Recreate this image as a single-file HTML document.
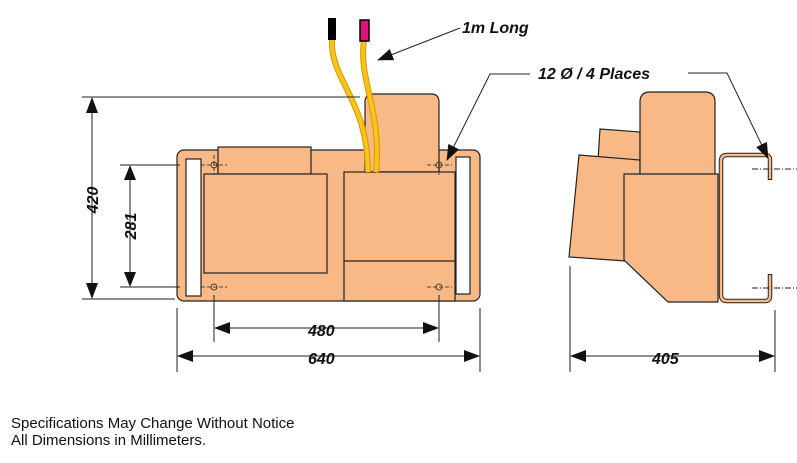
<!DOCTYPE html>
<html><head><style>
body{margin:0;background:#fff;width:797px;height:463px;overflow:hidden}
svg{display:block}
.t{font-family:"Liberation Sans",sans-serif;font-weight:bold;font-style:italic;font-size:16px;fill:#111}
.f{font-family:"Liberation Sans",sans-serif;font-size:15px;fill:#111}
</style></head><body>
<svg width="797" height="463" viewBox="0 0 797 463" xmlns="http://www.w3.org/2000/svg">
<defs>
<marker id="b" markerWidth="16" markerHeight="12" refX="15" refY="6" orient="auto" markerUnits="userSpaceOnUse"><path d="M0,0 L16,6 L0,12z" fill="#111"/></marker></defs>
<g stroke="#222" stroke-width="1.2" fill="#f8b987">
<rect x="177" y="150" width="303" height="151" rx="7"/>
<path d="M365,172 V102 Q365,94 373,94 H431 Q439,94 439,102 V172z"/>
<rect x="218" y="147" width="93" height="27"/>
<rect x="204" y="174" width="123" height="99"/>
<rect x="344" y="172" width="111" height="129"/>
<line x1="344" y1="261" x2="455" y2="261"/>
<rect x="186" y="159" width="15" height="137" fill="#fff"/>
<rect x="456" y="157" width="14" height="137" fill="#fff"/>
<path d="M600,129 L640,132 L640,162 L598,160z"/>
<path d="M579,155 L640,160 L640,262 L569,257z"/>
<path d="M640,174 V102 Q640,92 650,92 H705 Q715,92 715,102 V174"/>
<path d="M624,174 H718 V302 H668 L624,260z"/>
</g>
<path d="M770,180 V160 Q770,155 765,155 H727 Q721,155 721,161 V295 Q721,301 727,301 H765 Q770,301 770,296 V274" fill="none" stroke="#222" stroke-width="4.5"/>
<path d="M770,179 V160 Q770,155 765,155 H727 Q721,155 721,161 V295 Q721,301 727,301 H765 Q770,301 770,296 V275" fill="none" stroke="#f8b987" stroke-width="2.5"/>
<path d="M332,40 C330,80 368,100 368,172 M364,40 C358,80 382,110 376,172" fill="none" stroke="#d49a00" stroke-width="6"/>
<path d="M332,40 C330,80 368,100 368,172 M364,40 C358,80 382,110 376,172" fill="none" stroke="#fbc31a" stroke-width="4"/>
<rect x="328" y="18" width="8" height="22" fill="#000"/>
<rect x="360" y="20" width="9" height="21" fill="#e0107a" stroke="#000" stroke-width="1.5"/>
<g fill="none" stroke="#222" stroke-width="0.8">
<circle cx="214" cy="165" r="3"/><circle cx="439" cy="165" r="3"/><circle cx="214" cy="287" r="3"/><circle cx="439" cy="287" r="3"/>
<path d="M201,165h26M427,165h25M201,287h26M427,287h25M214,155v20M439,155v20" stroke-dasharray="4,2"/>
</g>
<g stroke="#222" stroke-width="1" fill="none">
<line x1="82" y1="97" x2="360" y2="97"/><line x1="82" y1="299" x2="175" y2="299"/>
<line x1="120" y1="165" x2="180" y2="165"/><line x1="120" y1="287" x2="180" y2="287"/>
<line x1="92" y1="112" x2="92" y2="284" /><line x1="130" y1="178" x2="130" y2="274"/>
<line x1="177" y1="308" x2="177" y2="372"/><line x1="480" y1="308" x2="480" y2="372"/>
<line x1="214" y1="295" x2="214" y2="342"/><line x1="439" y1="295" x2="439" y2="342"/>
<line x1="570" y1="266" x2="570" y2="372"/><line x1="775" y1="310" x2="775" y2="372"/>
<line x1="230" y1="328" x2="423" y2="328"/><line x1="193" y1="356" x2="464" y2="356"/>
<line x1="586" y1="356" x2="759" y2="356"/>
<path d="M460,28 L378,60" marker-end="url(#b)"/>
<path d="M530,74 H490 L447,160" marker-end="url(#b)"/>
<path d="M688,73 H727 L768,158" marker-end="url(#b)"/>
<path d="M752,169h45M752,288h45" stroke-dasharray="6,2,1,2"/>
</g>
<g fill="#111">
<path d="M92,97 L86,113 L98,113z M92,299 L86,283 L98,283z"/>
<path d="M130,165 L124,180 L136,180z M130,287 L124,272 L136,272z"/>
<path d="M214,328 L230,322 L230,334z M439,328 L423,322 L423,334z"/>
<path d="M177,356 L193,350 L193,362z M480,356 L464,350 L464,362z"/>
<path d="M570,356 L586,350 L586,362z M775,356 L759,350 L759,362z"/>
</g>
<text class="t" x="462" y="33">1m Long</text>
<text class="t" x="538" y="79">12 Ø / 4 Places</text>
<text class="t" x="308" y="336">480</text>
<text class="t" x="308" y="364">640</text>
<text class="t" x="652" y="364">405</text>
<text class="t" transform="translate(98,200) rotate(-90)" text-anchor="middle">420</text>
<text class="t" transform="translate(136,226) rotate(-90)" text-anchor="middle">281</text>
<text class="f" x="11" y="428">Specifications May Change Without Notice</text>
<text class="f" x="11" y="445">All Dimensions in Millimeters.</text>
</svg>
</body></html>
